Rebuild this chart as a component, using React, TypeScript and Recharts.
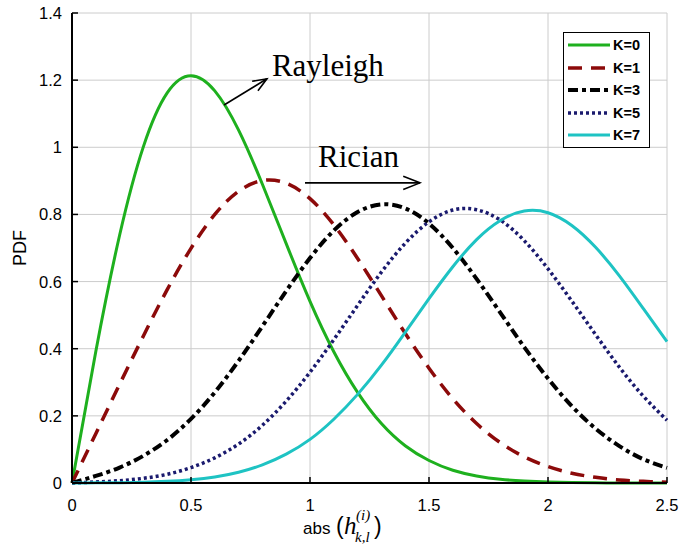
import React from 'react';
import {
  LineChart,
  Line,
  XAxis,
  YAxis,
  CartesianGrid,
  Legend,
  Label,
  ReferenceLine,
  ReferenceDot,
} from 'recharts';

// |h| sample points along the x axis
const absH = [
  0, 0.1, 0.2, 0.3, 0.4, 0.5, 0.6, 0.7, 0.8, 0.9, 1.0, 1.1, 1.2, 1.3, 1.4, 1.5, 1.6, 1.7, 1.8, 1.9, 2.0,
  2.1, 2.2, 2.3, 2.4, 2.5,
];

// PDF values (one per absH point)
const pdfK0 = [
  0, 0.392, 0.738, 1.002, 1.162, 1.213, 1.168, 1.051, 0.89, 0.713, 0.541, 0.391, 0.27, 0.177, 0.111, 0.067,
  0.038, 0.021, 0.011, 0.006, 0.003, 0.0012, 0.0005, 0.0002, 0.0001, 0,
];
const pdfK1 = [
  0, 0.147, 0.294, 0.438, 0.576, 0.699, 0.8, 0.869, 0.901, 0.893, 0.847, 0.769, 0.669, 0.558, 0.446, 0.342,
  0.251, 0.177, 0.12, 0.078, 0.049, 0.029, 0.017, 0.009, 0.005, 0.002,
];
const pdfK3 = [
  0, 0.021, 0.046, 0.081, 0.128, 0.191, 0.27, 0.364, 0.467, 0.572, 0.67, 0.752, 0.807, 0.83, 0.818, 0.773,
  0.7, 0.608, 0.507, 0.405, 0.311, 0.229, 0.162, 0.11, 0.071, 0.045,
];
const pdfK5 = [
  0, 0.003, 0.007, 0.014, 0.026, 0.046, 0.075, 0.116, 0.172, 0.244, 0.33, 0.427, 0.529, 0.628, 0.714, 0.778,
  0.813, 0.814, 0.783, 0.722, 0.638, 0.542, 0.442, 0.345, 0.259, 0.187,
];
const pdfK7 = [
  0, 0.0004, 0.001, 0.002, 0.005, 0.01, 0.018, 0.032, 0.054, 0.086, 0.13, 0.19, 0.264, 0.351, 0.449, 0.549,
  0.644, 0.725, 0.782, 0.81, 0.805, 0.767, 0.702, 0.617, 0.52, 0.421,
];

const xTicks = [0, 0.5, 1, 1.5, 2, 2.5];
const yTicks = [0, 0.2, 0.4, 0.6, 0.8, 1, 1.2, 1.4];

const series = [
  { key: 'k0', name: 'K=0', color: '#1eb01e', width: 3, dash: undefined as string | undefined },
  { key: 'k1', name: 'K=1', color: '#8c0a0a', width: 3.5, dash: '14 9' },
  { key: 'k3', name: 'K=3', color: '#000000', width: 4, dash: '10 4 4 4' },
  { key: 'k5', name: 'K=5', color: '#1a1a6e', width: 3.5, dash: '3 3' },
  { key: 'k7', name: 'K=7', color: '#1ec3c3', width: 3, dash: undefined as string | undefined },
];

const data = absH.map((x, i) => ({
  x,
  k0: pdfK0[i],
  k1: pdfK1[i],
  k3: pdfK3[i],
  k5: pdfK5[i],
  k7: pdfK7[i],
}));

const sans = '"Liberation Sans", Arial, sans-serif';
const serif = '"Liberation Serif", "Times New Roman", serif';

const BottomTick = (props: any) => {
  const { x, y, payload } = props;
  return (
    <g>
      <line x1={x} y1={y} x2={x} y2={y - 6} stroke="#000" strokeWidth={1.5} />
      <text x={x} y={y + 28} textAnchor="middle" fontSize={16.5} fontFamily={sans} fill="#000">
        {String(payload.value)}
      </text>
    </g>
  );
};

const LeftTick = (props: any) => {
  const { x, y, payload } = props;
  return (
    <g>
      <line x1={x} y1={y} x2={x + 6} y2={y} stroke="#000" strokeWidth={1.5} />
      <text x={x - 10} y={y + 6} textAnchor="end" fontSize={16.5} fontFamily={sans} fill="#000">
        {String(payload.value)}
      </text>
    </g>
  );
};

const TopTick = (props: any) => {
  const { x, y } = props;
  return <line x1={x} y1={y} x2={x} y2={y + 6} stroke="#000" strokeWidth={1.5} />;
};

const RightTick = (props: any) => {
  const { x, y } = props;
  return <line x1={x} y1={y} x2={x - 6} y2={y} stroke="#000" strokeWidth={1.5} />;
};

const XLabel = (props: any) => {
  const { x, y } = props.viewBox;
  const left = x + 231;
  const base = y + 51;
  return (
    <g fill="#000">
      <text x={left} y={base} fontSize={17} fontFamily={sans}>abs</text>
      <text x={left + 33} y={base} fontSize={23} fontFamily={sans}>(</text>
      <text x={left + 41} y={base} fontSize={25} fontStyle="italic" fontFamily={serif}>h</text>
      <text x={left + 53} y={base - 14} fontSize={15} fontStyle="italic" fontFamily={serif}>(i)</text>
      <text x={left + 52} y={base + 8} fontSize={15} fontStyle="italic" fontFamily={serif}>k,l</text>
      <text x={left + 71} y={base} fontSize={23} fontFamily={sans}>)</text>
    </g>
  );
};

const YLabel = (props: any) => {
  const { x, y, height } = props.viewBox;
  const cx = x + 20;
  const cy = y + height / 2;
  return (
    <text
      x={cx}
      y={cy}
      transform={`rotate(-90, ${cx}, ${cy})`}
      textAnchor="middle"
      dominantBaseline="central"
      fontSize={18}
      fontFamily={sans}
      fill="#000"
    >
      PDF
    </text>
  );
};

const arrowShape = (size: number) => (props: any) => {
  const { x1, y1, x2, y2 } = props;
  const a = Math.atan2(y2 - y1, x2 - x1);
  const s = 0.38;
  const p1 = `${x2 - size * Math.cos(a - s)},${y2 - size * Math.sin(a - s)}`;
  const p2 = `${x2 - size * Math.cos(a + s)},${y2 - size * Math.sin(a + s)}`;
  return (
    <g>
      <line x1={x1} y1={y1} x2={x2} y2={y2} stroke="#000" strokeWidth={1.6} />
      <polyline points={`${p1} ${x2},${y2} ${p2}`} fill="none" stroke="#000" strokeWidth={1.6} />
    </g>
  );
};

const textShape = (value: string) => (props: any) => (
  <text x={props.cx} y={props.cy} fontSize={31} fontFamily={serif} fill="#000">
    {value}
  </text>
);

const LegendBox = () => (
  <div
    style={{
      boxSizing: 'border-box',
      width: 87,
      height: 116,
      border: '1.5px solid #000',
      background: '#fff',
      padding: '1px 0 0 4px',
    }}
  >
    {series.map((s) => (
      <div key={s.key} style={{ display: 'flex', alignItems: 'center', height: 22.5 }}>
        <svg width={42} height={8}>
          <line x1={0} y1={4} x2={42} y2={4} stroke={s.color} strokeWidth={s.width} strokeDasharray={s.dash} />
        </svg>
        <span style={{ marginLeft: 3, fontFamily: sans, fontSize: 14.5, fontWeight: 'bold', color: '#000' }}>
          {s.name}
        </span>
      </div>
    ))}
  </div>
);

const App: React.FC = () => {
  return (
    <div style={{ position: 'absolute', left: 0, top: 0, width: 679, height: 554, background: '#fff' }}>
      <LineChart width={679} height={554} data={data} margin={{ top: 13, right: 12, bottom: 0, left: 0 }}>
        <CartesianGrid stroke="#cccccc" strokeWidth={1} />
        <XAxis
          dataKey="x"
          type="number"
          domain={[0, 2.5]}
          ticks={xTicks}
          height={71}
          tickSize={0}
          tickMargin={0}
          tickLine={false}
          axisLine={{ stroke: '#000', strokeWidth: 2 }}
          tick={<BottomTick />}
        >
          <Label content={<XLabel />} />
        </XAxis>
        <XAxis
          xAxisId="top"
          orientation="top"
          dataKey="x"
          type="number"
          domain={[0, 2.5]}
          ticks={xTicks}
          height={0}
          tickSize={0}
          tickMargin={0}
          tickLine={false}
          axisLine={{ stroke: '#000', strokeWidth: 2 }}
          tick={<TopTick />}
        />
        <YAxis
          type="number"
          domain={[0, 1.4]}
          ticks={yTicks}
          width={72}
          tickSize={0}
          tickMargin={0}
          tickLine={false}
          axisLine={{ stroke: '#000', strokeWidth: 2 }}
          tick={<LeftTick />}
        >
          <Label content={<YLabel />} />
        </YAxis>
        <YAxis
          yAxisId="right"
          orientation="right"
          type="number"
          domain={[0, 1.4]}
          ticks={yTicks}
          width={0}
          tickSize={0}
          tickMargin={0}
          tickLine={false}
          axisLine={{ stroke: '#000', strokeWidth: 2 }}
          tick={<RightTick />}
        />
        {series.map((s) => (
          <Line
            key={s.key}
            type="natural"
            dataKey={s.key}
            name={s.name}
            stroke={s.color}
            strokeWidth={s.width}
            strokeDasharray={s.dash}
            dot={false}
            activeDot={false}
            isAnimationActive={false}
          />
        ))}
        <ReferenceLine
          segment={[
            { x: 0.639, y: 1.126 },
            { x: 0.819, y: 1.204 },
          ]}
          shape={arrowShape(15)}
        />
        <ReferenceLine
          segment={[
            { x: 0.979, y: 0.894 },
            { x: 1.462, y: 0.894 },
          ]}
          shape={arrowShape(18)}
        />
        <ReferenceDot x={0.84} y={1.212} r={0} shape={textShape('Rayleigh')} />
        <ReferenceDot x={1.034} y={0.941} r={0} shape={textShape('Rician')} />
        <Legend
          layout="horizontal"
          verticalAlign="middle"
          align="center"
          content={() => <LegendBox />}
          wrapperStyle={{ left: 563, top: 32, right: 'auto', bottom: 'auto', width: 87, height: 116 }}
        />
      </LineChart>
    </div>
  );
};

export default App;
